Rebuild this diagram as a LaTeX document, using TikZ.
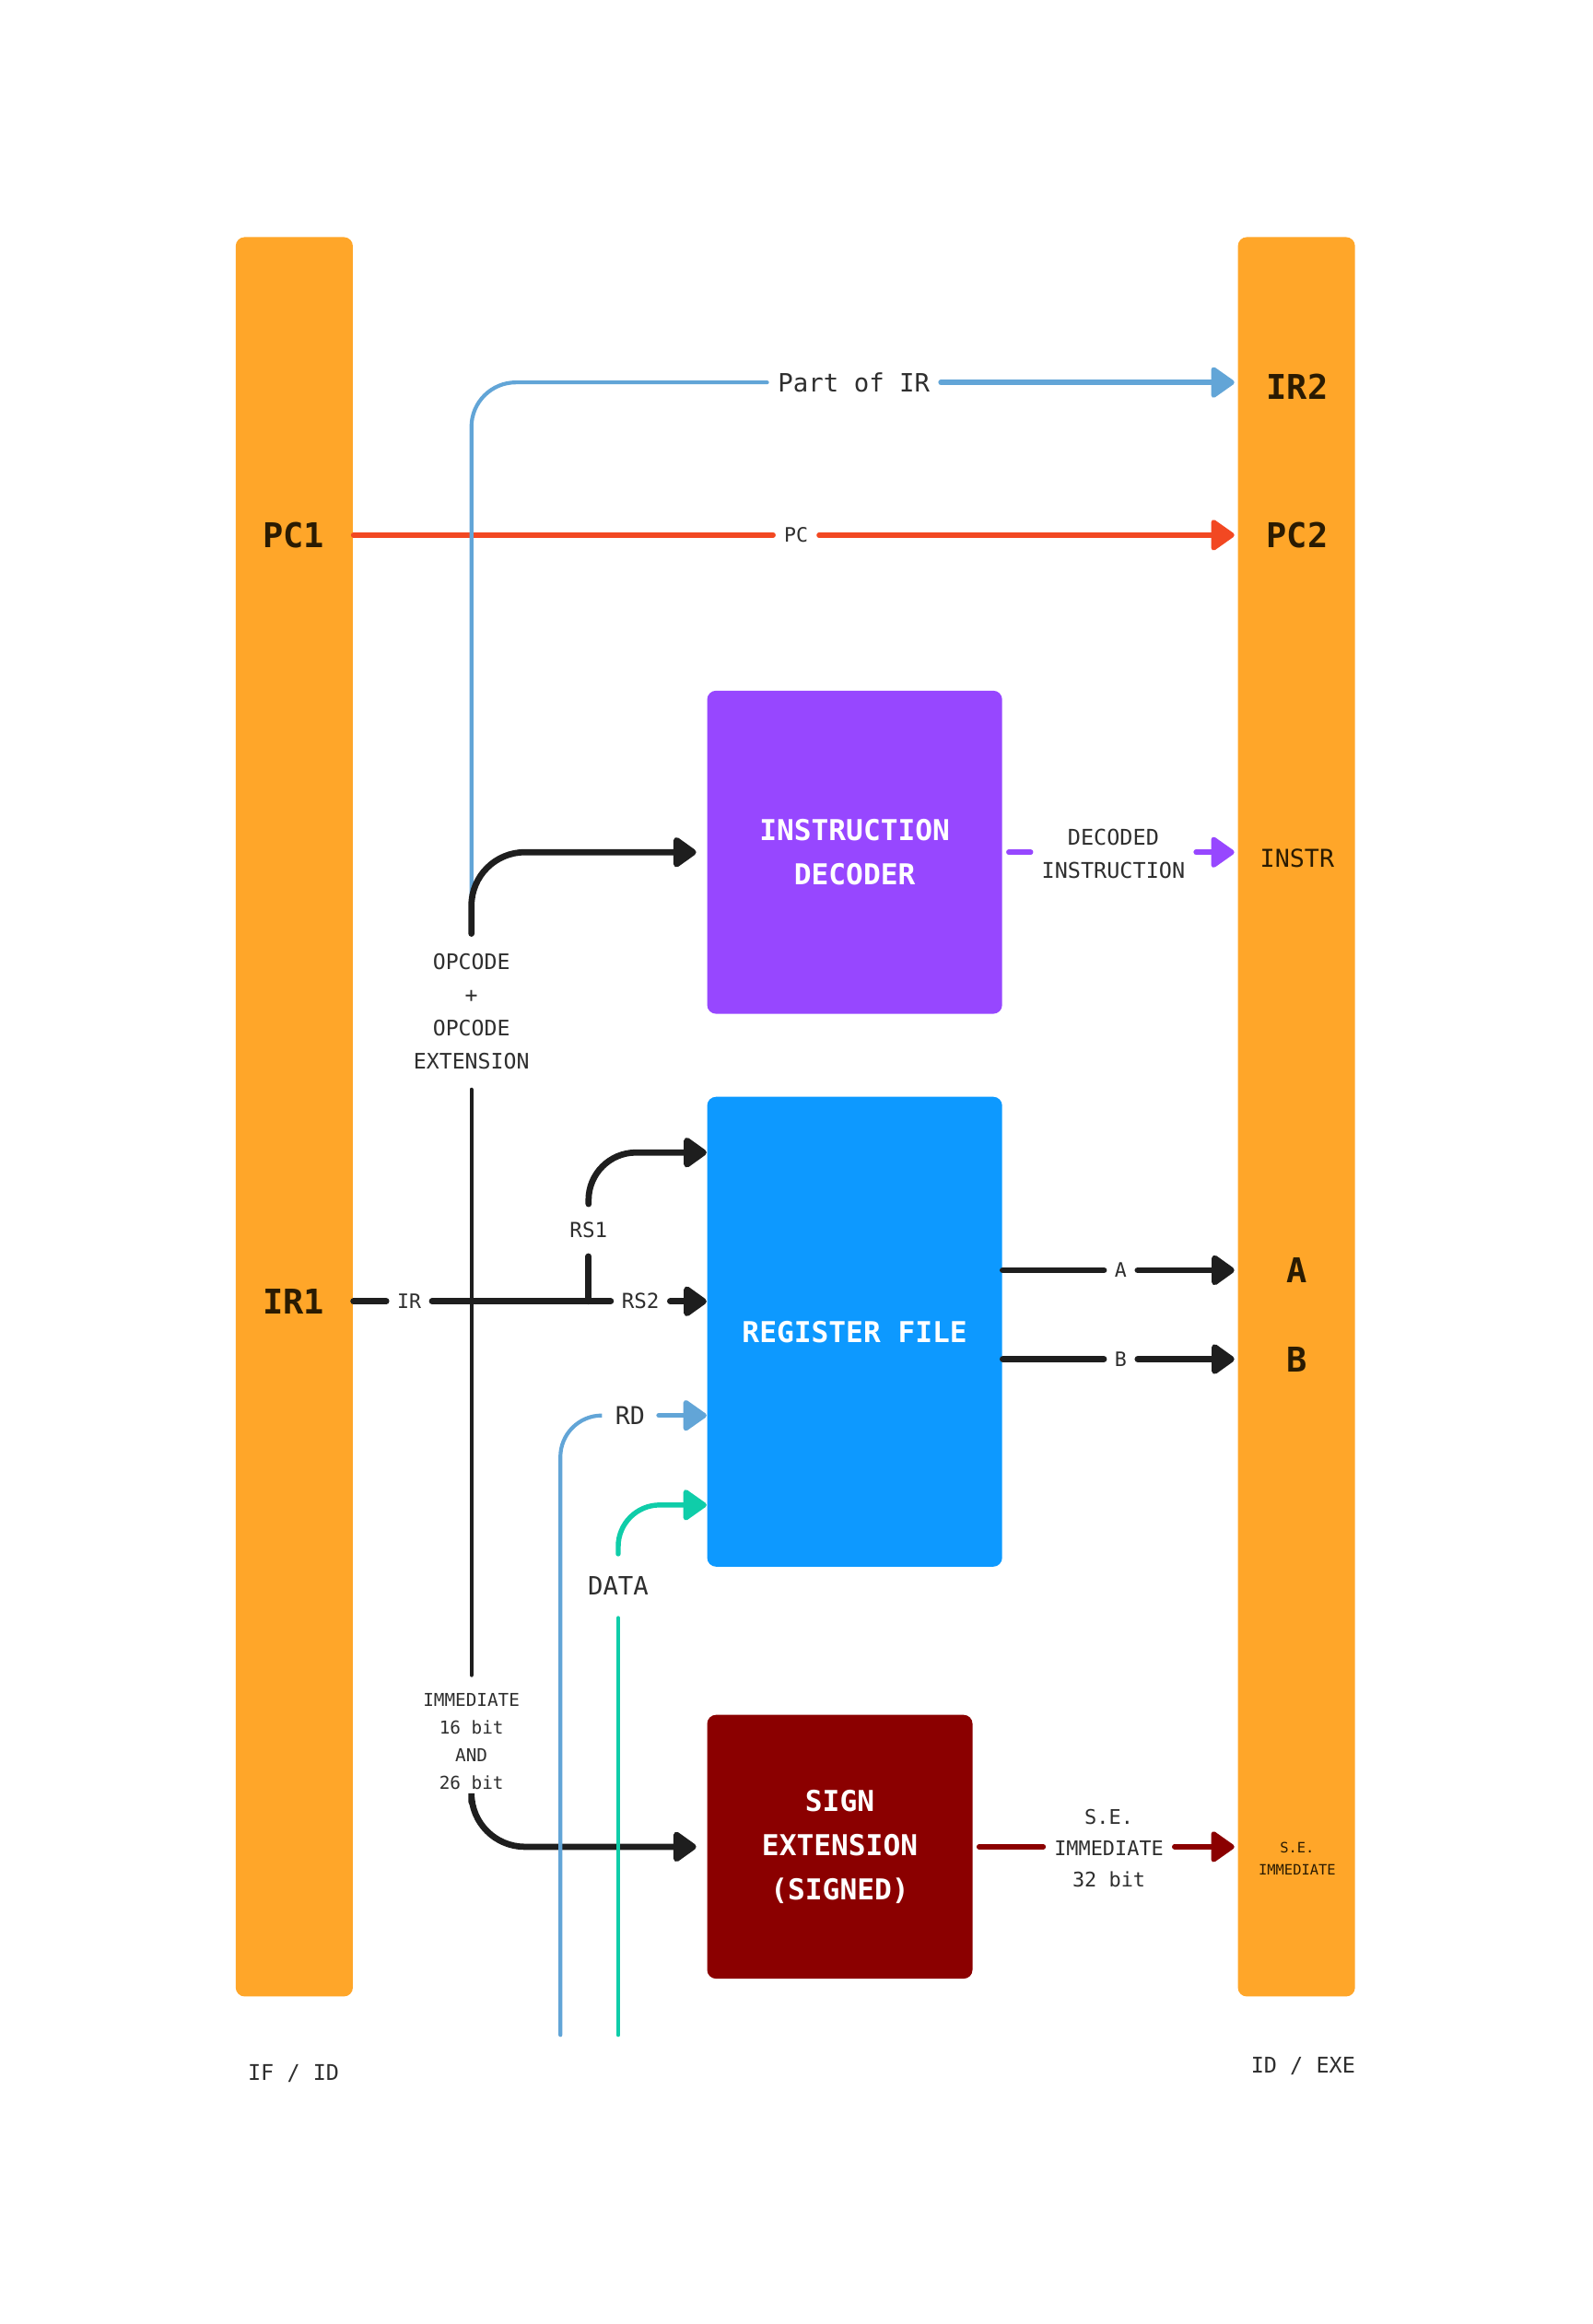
\documentclass[tikz,border=0pt]{standalone}
\usepackage{fontspec}
\newfontfamily\diagfont{DejaVu Sans Mono}
\usetikzlibrary{arrows.meta,calc}
\definecolor{barorange}{HTML}{FFA629}
\definecolor{barink}{HTML}{2A1B02}
\definecolor{ink}{HTML}{2E2E2E}
\definecolor{decpurple}{HTML}{9747FF}
\definecolor{rfblue}{HTML}{0D99FF}
\definecolor{sered}{HTML}{8B0000}
\definecolor{irblue}{HTML}{62A5D7}
\definecolor{pcred}{HTML}{F24822}
\definecolor{datagreen}{HTML}{0FCDA9}
\definecolor{wireblack}{HTML}{1E1E1E}

\begin{document}
\begin{tikzpicture}[x=0.5pt,y=-0.5pt,
  bar/.style={fill=barorange, rounded corners=3pt, minimum width=39.5pt, minimum height=593.5pt, inner sep=0pt},
  barlbl/.style={font=\diagfont\bfseries\fontsize{11.5}{14}\selectfont, text=barink},
  barsmall/.style={font=\diagfont\fontsize{8.3}{10}\selectfont, text=barink},
  block/.style={rounded corners=3pt, inner sep=0pt, text=white, align=center,
    font=\diagfont\bfseries\fontsize{9.7}{15}\selectfont},
  tag/.style={font=\diagfont\fontsize{6.7}{10.5}\selectfont, text=ink, inner sep=3.5pt, align=center},
  wire/.style={line width=1.7pt, line cap=round},
  thinwire/.style={line width=1.3pt, line cap=round},
  heavy/.style={line width=2.1pt, line cap=round, wireblack},
  tip/.style={-{Triangle[length=8.5pt,width=11.5pt,round]}}]
\useasboundingbox (0,0) rectangle (1074,1568);

\node[bar] (ifid) at (198.5,753.5) {};
\node[bar] (idexe) at (874.5,753.5) {};

\node[barlbl] (pc1) at (198,361) {PC1};
\node[barlbl] (ir1) at (198,878) {IR1};
\node[barlbl] (ir2) at (875,261) {IR2};
\node[barlbl] (pc2) at (875,361) {PC2};
\node[barsmall] (instr) at (875,579) {INSTR};
\node[barlbl] (rega) at (875,857) {A};
\node[barlbl] (regb) at (875,917) {B};
\node[font=\diagfont\fontsize{4.8}{7.5}\selectfont, text=barink, align=center] (seimm) at (875,1254) {S.E.\\IMMEDIATE};

\node[tag, font=\diagfont\fontsize{7.3}{9}\selectfont] (ifidlbl) at (198,1399) {IF / ID};
\node[tag, font=\diagfont\fontsize{7.3}{9}\selectfont] (idexelbl) at (879,1394) {ID / EXE};

\node[block, fill=decpurple, minimum width=99.5pt, minimum height=109pt] (decoder) at (576.5,575) {INSTRUCTION\\DECODER};
\node[block, fill=rfblue, minimum width=99.5pt, minimum height=158.5pt] (regfile) at (576.5,898.5) {REGISTER FILE};
\node[block, fill=sered, minimum width=89.5pt, minimum height=89pt] (signext) at (566.5,1246) {SIGN\\EXTENSION\\(SIGNED)};

\node[tag, font=\diagfont\fontsize{8.5}{10}\selectfont] (partir) at (576,258) {Part of IR};
\node[tag] (pclbl) at (537,361) {PC};
\node[tag, font=\diagfont\fontsize{7.2}{11.25}\selectfont, inner ysep=6.5pt] (opcode) at (318,682.5) {OPCODE\\+\\OPCODE\\EXTENSION};
\node[tag, font=\diagfont\fontsize{6}{9.3}\selectfont, inner ysep=6pt] (immlbl) at (318,1175) {IMMEDIATE\\16 bit\\AND\\26 bit};
\node[tag] (irlbl) at (276,878) {IR};
\node[tag, font=\diagfont\fontsize{7}{9}\selectfont] (rs2) at (432,878) {RS2};
\node[tag, font=\diagfont\fontsize{7}{9}\selectfont, inner ysep=6pt] (rs1) at (397,830) {RS1};
\node[tag, font=\diagfont\fontsize{8.3}{10}\selectfont, inner xsep=4.5pt] (rd) at (425,955) {RD};
\node[tag, font=\diagfont\fontsize{8.5}{10}\selectfont, inner ysep=7.5pt] (data) at (417,1070) {DATA};
\node[tag] (alb) at (756,857) {A};
\node[tag] (blb) at (756,917) {B};
\node[tag, font=\diagfont\fontsize{7.3}{11}\selectfont] (declbl) at (751,576) {DECODED\\INSTRUCTION};
\node[tag, font=\diagfont\fontsize{6.8}{10.5}\selectfont] (selbl) at (748,1247) {S.E.\\IMMEDIATE\\32 bit};

\coordinate (rdsrc) at (378,1373);
\coordinate (datasrc) at (417,1373);
\coordinate (irsplit) at (rs1 |- irlbl);

\draw[wire, pcred] (ifid.east |- pclbl) -- (pclbl.west);
\draw[wire, pcred, tip, shorten >=1pt] (pclbl.east) -- (idexe.west |- pclbl);

\draw[thinwire, irblue, rounded corners=15pt] (318,610) |- (partir.west);
\draw[wire, irblue, tip, shorten >=1pt] (partir.east) -- (idexe.west |- partir);

\draw[heavy, tip, rounded corners=18pt, shorten >=3.5pt] (opcode.north) |- (decoder.west);
\draw[thinwire, wireblack] (opcode.south) -- (immlbl.north);
\draw[heavy, tip, rounded corners=18pt, shorten <=2pt, shorten >=3.5pt] (immlbl.south) |- (signext.west);

\draw[heavy] (ifid.east |- irlbl) -- (irlbl.west);
\draw[heavy] (irlbl.east) -- (rs2.west);
\draw[heavy, tip] (rs2.east) -- (rs2.east -| regfile.west);
\draw[heavy] (irsplit) -- (rs1.south);
\draw[heavy, tip, rounded corners=16pt] (rs1.north) |- ($(regfile.north west)+(0,38)$);

\draw[thinwire, irblue, rounded corners=14pt] (rdsrc) |- (rd.west);
\draw[wire, irblue, tip] (rd.east) -- (rd.east -| regfile.west);

\draw[thinwire, datagreen] (datasrc) -- (data.south);
\draw[wire, datagreen, tip, rounded corners=14pt] (data.north) |- ($(regfile.south west)+(0,-42)$);

\draw[heavy] (regfile.east |- alb) -- (alb.west);
\draw[heavy, tip, shorten >=1pt] (alb.east) -- (idexe.west |- alb);
\draw[heavy] (regfile.east |- blb) -- (blb.west);
\draw[heavy, tip, shorten >=1pt] (blb.east) -- (idexe.west |- blb);

\draw[wire, decpurple, shorten <=2pt] (decoder.east) -- (declbl.west |- decoder.east);
\draw[wire, decpurple, tip, shorten >=1pt] (declbl.east |- decoder.east) -- (idexe.west |- decoder.east);

\draw[wire, sered, shorten <=2pt] (signext.east) -- (selbl.west |- signext.east);
\draw[wire, sered, tip, shorten >=1pt] (selbl.east |- signext.east) -- (idexe.west |- signext.east);

\end{tikzpicture}
\end{document}
